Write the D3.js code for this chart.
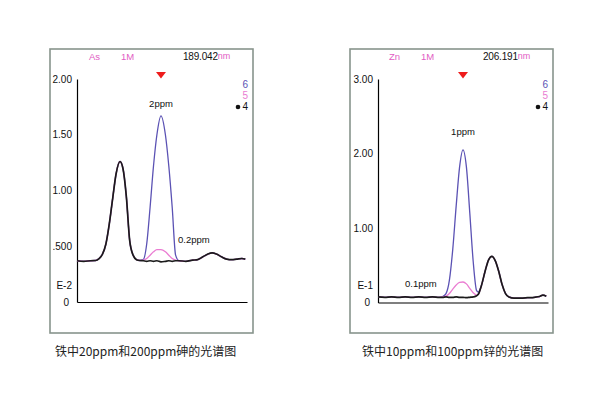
<!DOCTYPE html>
<html><head><meta charset="utf-8">
<script src="https://cdn.jsdelivr.net/npm/d3@7"></script>
<style>body{margin:0;background:#fff}svg{display:block}</style>
</head><body><svg id="c" width="600" height="400"></svg>
<script>
// ---- Left panel: As ----
const asHeader = ["As", "1M", "189.042", "nm"];
const asTickValues = [0, 0.5, 1.0, 1.5, 2.0];
const asTickLabels = ["0", ".500", "1.00", "1.50", "2.00"];
const asExpLabel = "E-2";
const asX  = [0,4,8,11,13,15,17,19,21,23,25.3,27,29,31,33,35,37,39,41,43,45,47,49.4,52,54,56,58,60,64,68,71,74,77,79.5,82,85,88,91,94,97,99];
const asS4 = [0.37,0.365,0.37,0.372,0.39,0.43,0.52,0.70,0.93,1.15,1.26,1.20,0.95,0.55,0.42,0.38,0.372,0.37,0.365,0.37,0.365,0.37,0.36,0.365,0.37,0.365,0.37,0.37,0.365,0.375,0.38,0.405,0.43,0.44,0.43,0.405,0.385,0.38,0.385,0.39,0.385];
const asS6 = [0.37,0.365,0.37,0.372,0.39,0.43,0.52,0.70,0.93,1.15,1.26,1.20,0.95,0.55,0.42,0.38,0.372,0.38,0.52,0.85,1.22,1.50,1.67,1.50,1.22,0.85,0.42,0.37,0.365,0.375,0.38,0.405,0.43,0.44,0.43,0.405,0.385,0.38,0.385,0.39,0.385];
const asS5 = [0.37,0.365,0.37,0.372,0.39,0.43,0.52,0.70,0.93,1.15,1.26,1.20,0.95,0.55,0.42,0.38,0.372,0.375,0.39,0.42,0.45,0.47,0.47,0.45,0.42,0.39,0.375,0.37,0.365,0.375,0.38,0.405,0.43,0.44,0.43,0.405,0.385,0.38,0.385,0.39,0.385];
const asPeakLabels = ["2ppm", "0.2ppm"];
const asCaption = "铁中20ppm和200ppm砷的光谱图";

// ---- Right panel: Zn ----
const znHeader = ["Zn", "1M", "206.191", "nm"];
const znTickValues = [0, 1, 2, 3];
const znTickLabels = ["0", "1.00", "2.00", "3.00"];
const znExpLabel = "E-1";
const znX  = [0,4,8,12,16,20,24,28,32,36,38,40,42,44,46,48,50,52,54,56,58,59,61,63,65,67,69,71,73,75,77,80,84,88,92,95,97,99];
const znS4 = [0.075,0.07,0.075,0.07,0.075,0.07,0.075,0.07,0.075,0.07,0.07,0.075,0.07,0.07,0.075,0.07,0.07,0.065,0.07,0.075,0.09,0.11,0.24,0.42,0.57,0.62,0.56,0.42,0.24,0.12,0.075,0.06,0.06,0.065,0.07,0.08,0.10,0.085];
const znS6 = [0.075,0.07,0.075,0.07,0.075,0.07,0.075,0.07,0.075,0.07,0.08,0.12,0.30,0.72,1.30,1.82,2.05,1.82,1.20,0.55,0.16,0.14,0.24,0.42,0.57,0.62,0.56,0.42,0.24,0.12,0.075,0.06,0.06,0.065,0.07,0.08,0.10,0.085];
const znS5 = [0.075,0.07,0.075,0.07,0.075,0.07,0.075,0.07,0.075,0.07,0.075,0.085,0.12,0.18,0.235,0.27,0.275,0.25,0.19,0.13,0.10,0.11,0.24,0.42,0.57,0.62,0.56,0.42,0.24,0.12,0.075,0.06,0.06,0.065,0.07,0.08,0.10,0.085];
const znPeakLabels = ["1ppm", "0.1ppm"];
const znCaption = "铁中10ppm和100ppm锌的光谱图";

const legendLabels = ["6", "5", "4"];
const colors = {s6: "#5b52b4", s5: "#ea7cd2", s4: "#1b1b1b", pinkText: "#e25cc4"};

const svg = d3.select("#c");

function panel(o) {
  const g = svg.append("g");
  // frame
  g.append("rect").attr("x", o.fx).attr("y", 49).attr("width", 203).attr("height", 284)
    .attr("fill", "#fff").attr("stroke", "#88948c").attr("stroke-width", 1.6);

  const x = d3.scaleLinear().domain([0, 100]).range([o.ax, o.ax + 170]);
  const y = d3.scaleLinear().domain(o.yDomain).range([o.y0, 79]);

  // y axis
  const ya = g.append("g").attr("transform", `translate(${o.ax},0)`)
    .call(d3.axisLeft(y).tickValues(o.tickValues).tickSize(0).tickPadding(5)
      .tickFormat((d, i) => o.tickLabels[i]));
  ya.select(".domain").attr("stroke", "#000").attr("stroke-width", 1.2);
  ya.selectAll("text").attr("font-family", "Liberation Sans, Arial, sans-serif")
    .attr("font-size", 10).attr("fill", "#111");
  ya.selectAll(".tick").filter(d => d === 0).select("text").attr("dx", -3);
  // x axis
  const xa = g.append("g").attr("transform", `translate(0,${o.y0})`)
    .call(d3.axisBottom(x).tickValues([]).tickSizeOuter(0));
  xa.select(".domain").attr("stroke", "#000").attr("stroke-width", 1.2);

  // exponent label
  g.append("text").attr("x", o.ax - 5).attr("y", o.y0 - 16).attr("text-anchor", "end")
    .attr("dominant-baseline", "middle")
    .attr("font-family", "Liberation Sans, Arial, sans-serif").attr("font-size", 10)
    .attr("fill", "#111").text(o.exp);

  // header
  const hf = "Liberation Sans, Arial, sans-serif";
  g.append("text").attr("x", o.fx + 39).attr("y", 57).attr("dominant-baseline", "middle")
    .attr("font-family", hf).attr("font-size", 9.5).attr("fill", colors.pinkText).text(o.header[0]);
  g.append("text").attr("x", o.fx + 71).attr("y", 57).attr("dominant-baseline", "middle")
    .attr("font-family", hf).attr("font-size", 9.5).attr("fill", colors.pinkText).text(o.header[1]);
  const ht = g.append("text").attr("x", o.fx + 133).attr("y", 57).attr("dominant-baseline", "middle")
    .attr("font-family", hf).attr("font-size", 10).attr("fill", "#111");
  ht.append("tspan").attr("letter-spacing", -0.2).text(o.header[2]);
  ht.append("tspan").attr("fill", colors.pinkText).attr("font-size", 9).text(o.header[3]);

  // marker triangle
  const tx = x(o.markX);
  g.append("path").attr("d", `M${tx - 5},72 L${tx + 5},72 L${tx},78.5 Z`).attr("fill", "#ee1c1c");

  // legend
  const lx = o.fx + 198;
  const lf = "Liberation Sans, Arial, sans-serif";
  g.append("text").attr("x", lx).attr("y", 85).attr("text-anchor", "end").attr("dominant-baseline", "middle")
    .attr("font-family", lf).attr("font-size", 10).attr("fill", colors.s6).text(legendLabels[0]);
  g.append("text").attr("x", lx).attr("y", 96).attr("text-anchor", "end").attr("dominant-baseline", "middle")
    .attr("font-family", lf).attr("font-size", 10).attr("fill", colors.s5).text(legendLabels[1]);
  g.append("text").attr("x", lx).attr("y", 107).attr("text-anchor", "end").attr("dominant-baseline", "middle")
    .attr("font-family", lf).attr("font-size", 10).attr("fill", "#111").text(legendLabels[2]);
  g.append("circle").attr("cx", lx - 10).attr("cy", 107).attr("r", 2.3).attr("fill", "#111");

  // series
  const line = d3.line().x((d, i) => x(o.xs[i])).y(d => y(d)).curve(d3.curveMonotoneX);
  [[o.s6, colors.s6, 1.3], [o.s5, colors.s5, 1.3], [o.s4, colors.s4, 1.7]].forEach(([s, c, w]) => {
    g.append("path").datum(s).attr("d", line).attr("fill", "none").attr("stroke", c)
      .attr("stroke-width", w).attr("stroke-linejoin", "round");
  });

  // peak labels
  g.append("text").attr("x", o.pl1[0]).attr("y", o.pl1[1]).attr("text-anchor", "middle")
    .attr("dominant-baseline", "middle").attr("font-family", lf).attr("font-size", 9.5)
    .attr("fill", "#111").text(o.peakLabels[0]);
  g.append("text").attr("x", o.pl2[0]).attr("y", o.pl2[1]).attr("text-anchor", "start")
    .attr("dominant-baseline", "middle").attr("font-family", lf).attr("font-size", 9.5)
    .attr("fill", "#111").text(o.peakLabels[1]);

  // caption
  g.append("text").attr("x", o.capX).attr("y", 353).attr("dominant-baseline", "middle")
    .attr("font-family", "Noto Sans CJK SC, sans-serif").attr("font-size", 12)
    .attr("fill", "#222").text(o.caption);
}

panel({fx: 50, ax: 77, y0: 302, yDomain: [0, 2], tickValues: asTickValues, tickLabels: asTickLabels,
  exp: asExpLabel, header: asHeader, markX: 49.4, xs: asX, s4: asS4, s5: asS5, s6: asS6,
  peakLabels: asPeakLabels, pl1: [161, 104], pl2: [178, 240], caption: asCaption, capX: 55});
panel({fx: 350, ax: 378, y0: 302.5, yDomain: [0, 3], tickValues: znTickValues, tickLabels: znTickLabels,
  exp: znExpLabel, header: znHeader, markX: 50, xs: znX, s4: znS4, s5: znS5, s6: znS6,
  peakLabels: znPeakLabels, pl1: [463, 132], pl2: [405, 284], caption: znCaption, capX: 362});
</script></body></html>
